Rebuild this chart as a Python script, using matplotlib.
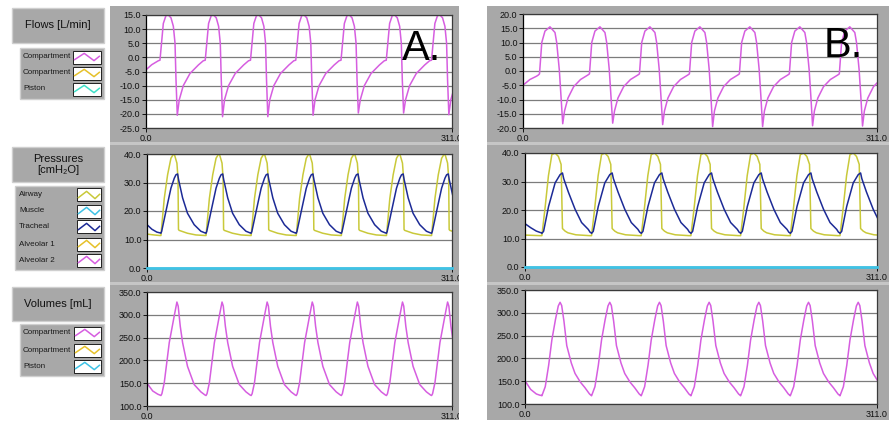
import numpy as np
import matplotlib.pyplot as plt
from matplotlib.patches import Rectangle
from matplotlib.lines import Line2D

plt.rcParams['font.family'] = ['Liberation Sans', 'DejaVu Sans']

t_end = 311.0

# ---------------- recording A ----------------
# start of each inspiration (samples)
a_onsets = [14.2, 60.2, 106.2, 152.2, 198.2, 244.2, 290.2]

# flow [L/min]: lead-in before first breath, then one breath
a_flow_lead_t = [0, 5.8, 12.5]
a_flow_lead = [-4.4, -2.6, -1.2]
a_flow_dt = [0, 3.4, 6.1, 8.5, 11.2, 13.6, 15.3, 16.3, 17.6, 19.6, 23.7, 30.5, 39.0, 44.0]
a_flow = [-1.0, 12, 14.8, 15, 14, 11, 5, -8, -20.6, -15, -10, -5.7, -2.7, -1.2]
a_flow_low = [-20.5, -21, -21, -20.5, -19.7, -19.7, -20.3]

# pressures [cmH2O]
a_airway_lead_t = [0, 7, 13.0]
a_airway_lead = [11.9, 11.6, 11.4]
a_airway_dt = [0, 3.4, 6.8, 10.2, 12.5, 13.6, 16.3, 17.4, 17.9, 18.6, 27.0, 35.6, 45.0]
a_airway = [11.4, 24.4, 32.7, 38.5, 39.8, 40, 36.8, 31.6, 13.5, 13.2, 12.2, 11.6, 11.4]

a_trach_lead_t = [0, 5, 10, 13.5]
a_trach_lead = [15.2, 13.6, 12.6, 12.3]
a_trach_dt = [0, 0.7, 5.1, 10.2, 13.6, 15.3, 17.0, 18.0, 22.1, 27.1, 33.9, 40.7, 45.0]
a_trach = [12.2, 12.8, 19.9, 28.0, 31.5, 32.7, 33.0, 31.0, 24.6, 19.2, 15.2, 12.9, 12.3]

# volume [mL]
a_vol_lead_t = [0, 5.8, 10.9]
a_vol_lead = [150, 133, 126]
a_vol_dt = [0, 1.0, 3.4, 8.5, 13.6, 16.3, 17.6, 19.7, 22.1, 27.1, 33.9, 40.7, 45.0]
a_vol = [123, 127, 151, 239, 298, 328, 319, 275, 239, 187, 147, 131, 124]

# ---------------- recording B ----------------
b_onsets = [14.5, 58.4, 102.3, 146.2, 190.1, 234.0, 277.9]

b_flow_lead_t = [0, 6, 12, 13.5]
b_flow_lead = [-5.0, -3.0, -1.8, -1.4]
b_flow_dt = [0, 2.0, 4.8, 9.2, 13.6, 15.1, 17.4, 18.9, 20.4, 22.0, 25.0, 30.0, 36.0, 42.5]
b_flow = [-1.0, 10, 14, 15.5, 13.5, 10, 0.4, -9, -18.5, -14, -9.5, -5.5, -3, -1.4]
b_flow_low = [-18.5, -18.3, -18.8, -19.5, -19.5, -19.2, -19.3]

b_airway_lead_t = [0, 7, 13]
b_airway_lead = [11.2, 11.1, 11.0]
b_airway_dt = [0, 0.4, 3.3, 6.2, 9.2, 12.1, 15.0, 17.4, 18.6, 20.9, 23.4, 30.4, 42.5]
b_airway = [11.0, 11.0, 21, 32, 39.4, 40, 38.8, 36, 13.5, 12.6, 12.0, 11.3, 11.0]

b_trach_lead_t = [0, 5, 10, 13.5]
b_trach_lead = [15.2, 13.8, 12.6, 12.1]
b_trach_dt = [0, 0.4, 1.9, 6.3, 12.1, 16.5, 18.6, 19.7, 23.8, 29.7, 35.5, 41.4, 43.0]
b_trach = [12.0, 11.8, 12.5, 21.2, 29.5, 32.4, 33.0, 31.0, 26.3, 20.3, 15.6, 13.2, 12.2]

b_vol_lead_t = [0, 5, 10, 13.5]
b_vol_lead = [151, 132, 122, 119]
b_vol_dt = [0, 0.4, 3.4, 6.4, 9.2, 12.4, 14.9, 16.5, 17.9, 19.9, 22.4, 26.4, 29.7, 34.4, 38.4, 42.5]
b_vol = [119, 118, 138, 185, 240, 285, 315, 323, 316, 282, 228, 190, 167, 148, 136, 122]

# muscle pressure stays at zero over the whole record
muscle_t = [0, t_end]
muscle = [0, 0]

# legend entries
flow_names = ['Compartment', 'Compartment', 'Piston']
flow_colors = ['#d65ee0', '#e6c12a', '#3fe0c8']
press_names = ['Airway', 'Muscle', 'Tracheal', 'Alveolar 1', 'Alveolar 2']
press_colors = ['#c9c93a', '#3fc3e6', '#1c2a96', '#e6c12a', '#d65ee0']
vol_names = ['Compartment', 'Compartment', 'Piston']
vol_colors = ['#d65ee0', '#e6c12a', '#3ec3e6']

MAG = '#d65ee0'
AIR = '#c9c93a'
TRA = '#1c2a96'
MUS = '#3fc3e6'


def trace(lead_t, lead_v, onsets, dt, vals, low=None):
    t, v = list(lead_t), list(lead_v)
    for i, on in enumerate(onsets):
        cyc = list(vals)
        if low is not None:
            cyc[cyc.index(min(cyc))] = low[i]
        t += [on + d for d in dt]
        v += cyc
    return np.array(t), np.array(v)


W, H = 890, 421
fig = plt.figure(figsize=(W / 100, H / 100), dpi=100)


def rect(x0, y0, x1, y1, **kw):
    r = Rectangle((x0 / W, 1 - y1 / H), (x1 - x0) / W, (y1 - y0) / H,
                  transform=fig.transFigure, **kw)
    fig.add_artist(r)


def ftext(x, y, s, **kw):
    fig.text(x / W, 1 - y / H, s, **kw)


# gray frames behind the graphs
for gx0, gx1 in [(110, 459), (487, 889)]:
    rect(gx0, 6, gx1, 420, facecolor='#c6c6c6', edgecolor='none', zorder=-10)
    for gy0, gy1 in [(6, 142), (145, 282), (285, 420)]:
        rect(gx0, gy0, gx1, gy1, facecolor='#a8a8a8', edgecolor='none', zorder=-9)

# captions on the left
for (y0, y1), label in zip([(8, 43), (147, 182), (287, 321)],
                           ['Flows [L/min]', 'Pressures\n[cmH\u2082O]', 'Volumes [mL]']):
    rect(12, y0, 104, y1, facecolor='#a8a8a8', edgecolor='#cfcfcf', lw=1, zorder=-8)
    ftext(58, (y0 + y1) / 2, label, ha='center', va='center', fontsize=8,
          linespacing=1.05, color='#111111')


def legend_box(box, names, colors, rows, tx, sx0, sx1):
    x0, y0, x1, y1 = box
    rect(x0, y0, x1, y1, facecolor='#a8a8a8', edgecolor='#cfcfcf', lw=1, zorder=-8)
    for name, c, ry in zip(names, colors, rows):
        ftext(tx, ry, name, ha='left', va='center', fontsize=5.8, color='#1a1a1a')
        rect(sx0, ry - 6.5, sx1, ry + 6.5, facecolor='white', edgecolor='#202020',
             lw=0.7, zorder=-7)
        fx = np.array([0.06, 0.4, 0.75, 0.94])
        fy = np.array([0.3, 0.78, 0.22, 0.55])
        xs = (sx0 + fx * (sx1 - sx0)) / W
        ys = 1 - (ry + 6.5 - fy * 13) / H
        fig.add_artist(Line2D(xs, ys, transform=fig.transFigure, color=c, lw=1.1))


legend_box((20, 48, 104, 99), flow_names, flow_colors, [57, 73, 89], 23, 73, 101)
legend_box((15, 186, 104, 270), press_names, press_colors, [195, 211, 227, 244, 260], 19, 77, 101)
legend_box((20, 324, 104, 376), vol_names, vol_colors, [333, 350, 366], 23, 74, 101)


def graph(x0, y0, x1, y1, ylim, yticks):
    ax = fig.add_axes([x0 / W, 1 - y1 / H, (x1 - x0) / W, (y1 - y0) / H])
    ax.set_facecolor('white')
    ax.set_xlim(0, t_end)
    ax.set_ylim(*ylim)
    ax.set_yticks(yticks)
    ax.set_yticklabels([f'{y:.1f}' for y in yticks])
    ax.set_xticks([0, t_end])
    ax.set_xticklabels(['0.0', '311.0'])
    ax.grid(axis='y', color='#7c7c7c', lw=0.9)
    ax.set_axisbelow(True)
    ax.tick_params(direction='out', length=3, width=0.7, labelsize=6.5, pad=1,
                   colors='#111111')
    for s in ax.spines.values():
        s.set_color('#3a3a3a')
        s.set_linewidth(0.9)
    ax.spines['left'].set_color('black')
    return ax


flow_ticks_a = [-25, -20, -15, -10, -5, 0, 5, 10, 15]
flow_ticks_b = [-20, -15, -10, -5, 0, 5, 10, 15, 20]
press_ticks = [0, 10, 20, 30, 40]
vol_ticks = [100, 150, 200, 250, 300, 350]

# ---- A ----
ax = graph(146, 15, 452, 128, (-25, 15), flow_ticks_a)
ax.plot(*trace(a_flow_lead_t, a_flow_lead, a_onsets, a_flow_dt, a_flow, a_flow_low), color=MAG, lw=1.1)

ax = graph(147, 154, 452, 268, (0, 40), press_ticks)
ax.plot(muscle_t, muscle, color=MUS, lw=2.0, clip_on=False, zorder=4)
ax.plot(*trace(a_airway_lead_t, a_airway_lead, a_onsets, a_airway_dt, a_airway), color=AIR, lw=1.1)
ax.plot(*trace(a_trach_lead_t, a_trach_lead, a_onsets, a_trach_dt, a_trach), color=TRA, lw=1.1)

ax = graph(147, 292, 452, 406, (100, 350), vol_ticks)
ax.plot(*trace(a_vol_lead_t, a_vol_lead, a_onsets, a_vol_dt, a_vol), color=MAG, lw=1.1)

# ---- B ----
ax = graph(523, 14, 877, 128, (-20, 20), flow_ticks_b)
ax.plot(*trace(b_flow_lead_t, b_flow_lead, b_onsets, b_flow_dt, b_flow, b_flow_low), color=MAG, lw=1.1)

ax = graph(525, 153, 877, 267, (0, 40), press_ticks)
ax.plot(muscle_t, muscle, color=MUS, lw=2.0, clip_on=False, zorder=4)
ax.plot(*trace(b_airway_lead_t, b_airway_lead, b_onsets, b_airway_dt, b_airway), color=AIR, lw=1.1)
ax.plot(*trace(b_trach_lead_t, b_trach_lead, b_onsets, b_trach_dt, b_trach), color=TRA, lw=1.1)

ax = graph(525, 290, 877, 404, (100, 350), vol_ticks)
ax.plot(*trace(b_vol_lead_t, b_vol_lead, b_onsets, b_vol_dt, b_vol), color=MAG, lw=1.1)

# white gap between the two screenshots cuts the "311.0" of A
rect(459, 0, 487, H, facecolor='white', edgecolor='none', zorder=5)

ftext(402, 60, 'A.', fontsize=30, va='baseline', ha='left', color='black')
ftext(824, 57, 'B.', fontsize=30, va='baseline', ha='left', color='black')

fig.savefig('out.png', dpi=100)
